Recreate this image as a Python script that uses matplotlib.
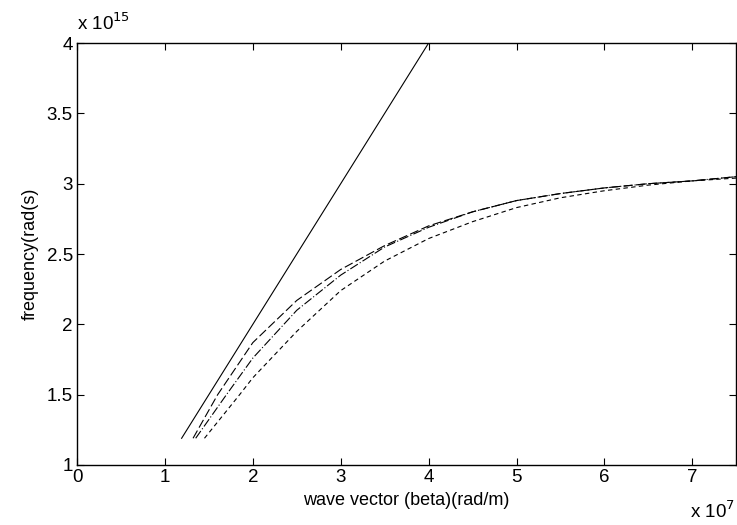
import matplotlib
matplotlib.use('Agg')
import matplotlib.pyplot as plt

# values in units of 1e7 rad/m (beta) and 1e15 rad/s (omega)
beta_light = [1.19, 2.0, 3.0, 4.0]
omega_light = [1.19, 2.0, 3.0, 4.0]

beta_a = [1.32, 1.6, 2.0, 2.5, 3.0, 3.5, 4.0, 4.5, 5.0, 5.5, 6.0, 6.5, 7.0, 7.5]
omega_a = [1.19, 1.5, 1.87, 2.17, 2.39, 2.56, 2.70, 2.80, 2.88, 2.93, 2.97, 3.00, 3.02, 3.05]

beta_b = [1.35, 1.7, 2.0, 2.5, 3.0, 3.5, 4.0, 4.5, 5.0, 5.5, 6.0, 6.5, 7.0, 7.5]
omega_b = [1.19, 1.5, 1.76, 2.10, 2.35, 2.55, 2.69, 2.80, 2.88, 2.93, 2.97, 3.00, 3.02, 3.05]

beta_c = [1.45, 1.85, 2.0, 2.5, 3.0, 3.5, 4.0, 4.5, 5.0, 5.5, 6.0, 6.5, 7.0, 7.5]
omega_c = [1.19, 1.5, 1.62, 1.95, 2.24, 2.45, 2.61, 2.73, 2.83, 2.90, 2.95, 2.99, 3.02, 3.04]

plt.rcParams['font.family'] = 'Liberation Sans'

fig = plt.figure(figsize=(7.37, 5.25), dpi=100)
ax = fig.add_axes([0.1045, 0.1143, 0.8945, 0.8037])

lw = 0.8
ax.plot(beta_light, omega_light, color='black', linestyle='-', linewidth=lw)
ax.plot(beta_a, omega_a, color='black', linestyle=(0, (8, 3)), linewidth=lw)
ax.plot(beta_b, omega_b, color='black', linestyle=(0, (8, 2, 1, 2)), linewidth=lw)
ax.plot(beta_c, omega_c, color='black', linestyle=(0, (4, 3)), linewidth=lw)

ax.set_xlim(0, 7.5)
ax.set_ylim(1, 4)
ax.set_xticks([0, 1, 2, 3, 4, 5, 6, 7])
ax.set_xticklabels(['0', '1', '2', '3', '4', '5', '6', '7'])
ax.set_yticks([1, 1.5, 2, 2.5, 3, 3.5, 4])
ax.set_yticklabels(['1', '1.5', '2', '2.5', '3', '3.5', '4'])
ax.tick_params(direction='in', top=True, right=True, length=5, width=0.8,
               labelsize=13.5, pad=3)
for s in ax.spines.values():
    s.set_linewidth(1.0)

ax.set_xlabel('wave vector (beta)(rad/m)', fontsize=13, labelpad=4)
ax.set_ylabel('frequency(rad(s)', fontsize=13, labelpad=6)

fig.text(0.104, 0.935, r'x 10$^{15}$', fontsize=13.5, ha='left', va='bottom')
fig.text(0.997, 0.005, r'x 10$^{7}$', fontsize=13.5, ha='right', va='bottom')

fig.savefig('out.png', dpi=100)
